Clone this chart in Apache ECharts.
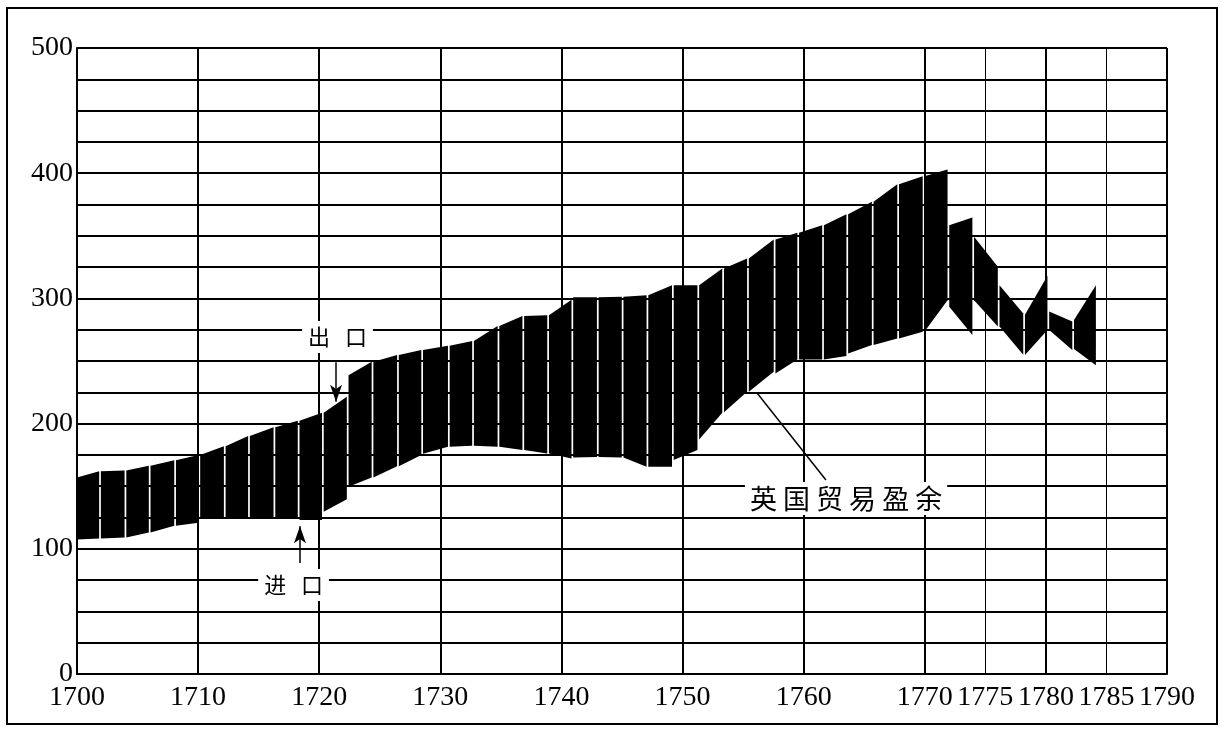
<!DOCTYPE html>
<html>
<head>
<meta charset="utf-8">
<script src="https://cdn.jsdelivr.net/npm/echarts@6/dist/echarts.min.js"></script>
<style>
html,body{margin:0;padding:0;background:#fff;}
#chart{width:1225px;height:732px;}
</style>
</head>
<body>
<div id="chart"></div>
<script>
// Strip edges (years): each black strip spans two consecutive edges
const stripEdges = [1700, 1701.9, 1704.0, 1706.0, 1708.1, 1710.1, 1712.2, 1714.2, 1716.3, 1718.3, 1720.3,
  1722.35, 1724.4, 1726.5, 1728.5, 1730.7, 1732.7, 1734.8, 1736.85, 1738.9, 1740.9, 1743.0, 1745.05,
  1747.1, 1749.2, 1751.3, 1753.35, 1755.4, 1757.6, 1759.55, 1761.6, 1763.6, 1765.7, 1767.8, 1769.9,
  1771.95, 1774.0, 1776.1, 1778.2, 1780.2, 1782.25, 1784.2];
// Exports (upper edge) at start / end of each strip
const exportStart = [157, 162, 162.6, 166.4, 170.8, 175, 182, 190, 197, 202.3, 208.7, 238.7, 249.4, 254.7,
  258.7, 262.2, 265.9, 278, 285.9, 286.6, 301, 301, 301.3, 302.6, 310.6, 310.6, 323.9, 331.9, 347, 352.4,
  358.5, 367.3, 377.1, 391.2, 397.6, 358.5, 349.2, 310.6, 287, 289.5, 282.7];
const exportEnd = [162, 162.6, 166.4, 170.8, 175, 182, 190, 197, 202.3, 208.7, 221.5, 249.4, 254.7, 258.7,
  262.2, 265.9, 278, 285.9, 286.6, 299, 301, 301.3, 302.6, 310.6, 310.6, 323.9, 331.9, 347, 352.4, 358.5,
  367.3, 377.1, 391.2, 397.6, 403, 364.6, 325.2, 288, 318, 281.5, 310.6];
// Imports (lower edge) at start / end of each strip
const importStart = [107.5, 108.3, 109, 113.1, 118.4, 124.3, 124.3, 124.3, 124.3, 123, 129.6, 149.6, 157, 166,
  176, 181.5, 182.3, 181.5, 178.9, 176.2, 173, 173.3, 173, 165.5, 170.9, 187.4, 209, 225.4, 240, 251.2,
  251.2, 256, 262.7, 268, 273.3, 293.3, 298.6, 277.5, 254.7, 274.7, 259.5];
const importEnd = [108.3, 109, 113.1, 118.4, 120.8, 124.3, 124.3, 124.3, 124.3, 123, 139.5, 157, 166, 175,
  181.5, 182.3, 181.5, 178.9, 176.2, 172.2, 173.3, 173, 165.5, 165.5, 178.9, 208.7, 225.4, 241.4, 251.2,
  251.2, 254, 262.7, 268, 273.3, 298.6, 270.7, 277.5, 255, 274.7, 258.7, 246.7];

// Axis ticks
const xLabelValues = [1700, 1710, 1720, 1730, 1740, 1750, 1760, 1770, 1775, 1780, 1785, 1790];
const xMajorLines = [1700, 1710, 1720, 1730, 1740, 1750, 1760, 1770, 1780, 1790];
const xMinorLines = [1775, 1785];
const yLabelValues = [0, 100, 200, 300, 400, 500];

const stripData = [];
for (let i = 0; i < exportStart.length; i++) {
  stripData.push([stripEdges[i], stripEdges[i + 1], exportStart[i], exportEnd[i], importStart[i], importEnd[i]]);
}

const serif = '"Liberation Serif", "DejaVu Serif", serif';
const cjk = '"Noto Sans CJK SC", sans-serif';

const chart = echarts.init(document.getElementById('chart'), null, {renderer: 'canvas'});
chart.setOption({
  animation: false,
  backgroundColor: '#fff',
  graphic: [{
    type: 'rect', shape: {x: 7, y: 8, width: 1210, height: 716},
    style: {fill: 'none', stroke: '#000', lineWidth: 2}, z: 100
  }],
  grid: {left: 77, right: 58, top: 48, bottom: 58, containLabel: false},
  xAxis: [{
    type: 'value', min: 1700, max: 1790, interval: 10,
    axisLine: {show: true, lineStyle: {color: '#000', width: 2}},
    axisTick: {show: false, customValues: xMajorLines},
    axisLabel: {customValues: xLabelValues, color: '#000', fontFamily: serif, fontSize: 28, margin: 10,
      hideOverlap: false, showMinLabel: true, showMaxLabel: true,
      formatter: function (v) { return String(v); }},
    splitLine: {show: true, lineStyle: {color: '#000', width: 2}}
  }, {
    type: 'value', min: 1700, max: 1790, interval: 5, position: 'bottom',
    axisLine: {show: false},
    axisTick: {show: false, customValues: xMinorLines},
    axisLabel: {show: false},
    splitLine: {show: true, lineStyle: {color: '#000', width: 1}}
  }],
  yAxis: {
    type: 'value', min: 0, max: 500, interval: 25,
    axisLine: {show: true, lineStyle: {color: '#000', width: 2}},
    axisTick: {show: false},
    axisLabel: {customValues: yLabelValues, color: '#000', fontFamily: serif, fontSize: 28, margin: 4,
      formatter: function (v) { return String(v); }},
    splitLine: {show: true, lineStyle: {color: '#000', width: 2}}
  },
  series: [{
    type: 'custom',
    xAxisIndex: 0,
    data: stripData,
    encode: {x: [0, 1], y: [2, 3, 4, 5]},
    renderItem: function (params, api) {
      const x0 = api.value(0), x1 = api.value(1);
      const tl = api.coord([x0, api.value(2)]);
      const tr = api.coord([x1, api.value(3)]);
      const br = api.coord([x1, api.value(5)]);
      const bl = api.coord([x0, api.value(4)]);
      const g = 0.85;
      const gl = params.dataIndex === 0 ? 0 : g;
      return {
        type: 'polygon',
        shape: {points: [[tl[0] + gl, tl[1]], [tr[0] - g, tr[1]], [br[0] - g, br[1]], [bl[0] + gl, bl[1]]]},
        style: {fill: '#000', stroke: null}
      };
    },
    z: 3
  }, {
    type: 'line',
    xAxisIndex: 0,
    data: [],
    z: 5,
    markLine: {
      silent: true,
      animation: false,
      symbol: ['none', 'arrow'],
      symbolSize: [9, 17],
      label: {show: false},
      lineStyle: {color: '#000', width: 1.5, type: 'solid'},
      data: [
        [{coord: [1721.39, 249.1]}, {coord: [1721.39, 217.5]}],
        [{coord: [1718.41, 88.6]}, {coord: [1718.41, 118.0]}],
        [{coord: [1756.15, 224.4], symbol: 'none'}, {coord: [1761.84, 154.9], symbol: 'none'}]
      ]
    },
    markPoint: {
      silent: true,
      animation: false,
      symbol: 'circle',
      symbolSize: 1,
      itemStyle: {color: 'rgba(0,0,0,0)'},
      data: [
        {coord: [1721.51, 269.1], label: {show: true, position: 'inside', formatter: '出   口', color: '#000',
          fontFamily: cjk, fontSize: 22, backgroundColor: '#fff', padding: [5, 6]}},
        {coord: [1717.88, 71.1], label: {show: true, position: 'inside', formatter: '进   口', color: '#000',
          fontFamily: cjk, fontSize: 22, backgroundColor: '#fff', padding: [5, 6]}},
        {coord: [1763.5, 140.1], label: {show: true, position: 'inside', formatter: '英 国 贸 易 盈 余', color: '#000',
          fontFamily: cjk, fontSize: 27, backgroundColor: '#fff', padding: [3, 5]}}
      ]
    }
  }]
});
</script>
</body>
</html>
